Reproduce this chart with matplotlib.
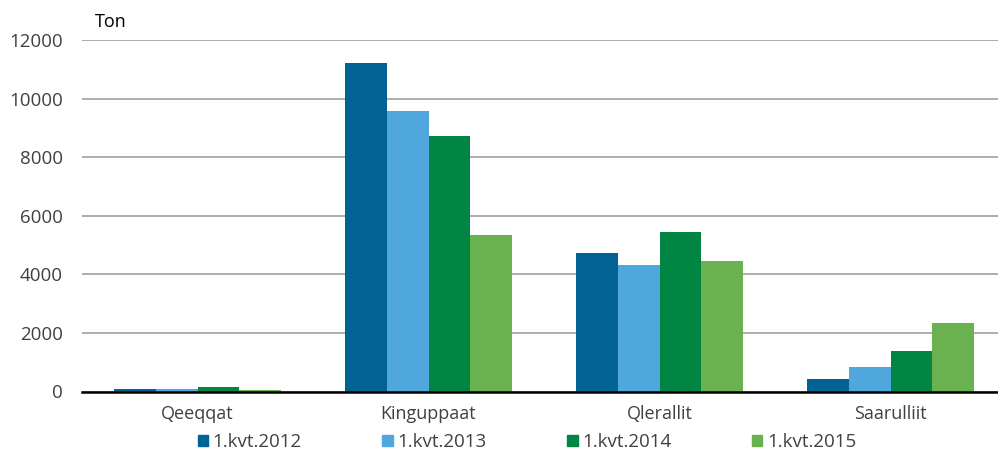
import numpy as np
import matplotlib
matplotlib.use("Agg")
import matplotlib.pyplot as plt
from matplotlib.patches import Patch

plt.rcParams['font.family'] = ['Open Sans', 'DejaVu Sans']

categories = ['Qeeqqat', 'Kinguppaat', 'Qlerallit', 'Saarulliit']
series = ['1.kvt.2012', '1.kvt.2013', '1.kvt.2014', '1.kvt.2015']
v2012 = [100, 11200, 4720, 420]
v2013 = [95, 9580, 4320, 840]
v2014 = [140, 8720, 5440, 1370]
v2015 = [40, 5340, 4440, 2350]
values = [v2012, v2013, v2014, v2015]
colors = ['#006394', '#4fa7dd', '#008542', '#6ab150']

fig = plt.figure(figsize=(9.98, 4.5), dpi=100)
ax = fig.add_axes([82 / 998, 58.5 / 450, 916 / 998, 351.5 / 450])

x = np.arange(len(categories))
w = 0.18
for i, (vals, col) in enumerate(zip(values, colors)):
    ax.bar(x + (i - 1.5) * w, vals, w, color=col, label=series[i], zorder=3)

ax.set_xlim(-0.5, 3.465)
ax.set_ylim(0, 12000)
ax.set_yticks(range(0, 12001, 2000))
ax.set_xticks(x)
ax.set_xticklabels(categories)
ax.grid(axis='y', color='#a0a0a0', linewidth=1.2, zorder=0)
for s in ['top', 'right', 'left']:
    ax.spines[s].set_visible(False)
ax.spines['bottom'].set_color('black')
ax.spines['bottom'].set_linewidth(1.8)
ax.spines['bottom'].set_zorder(4)
ax.tick_params(axis='y', length=0, pad=14, labelsize=13.5, labelcolor='#404040')
ax.tick_params(axis='x', length=0, pad=10, labelsize=13, labelcolor='#404040')

fig.text(95 / 998, 1 - 22 / 450, 'Ton', fontsize=13, color='black', va='center', ha='left')

handles = [Patch(color=c) for c in colors]
fig.legend(handles, series, loc='center', bbox_to_anchor=(527 / 998, 1 - 442 / 450),
           ncol=4, frameon=False, fontsize=13.5, handlelength=0.55, handleheight=0.55,
           handletextpad=0.25, columnspacing=4.3, labelcolor='#404040')

fig.savefig('out.png', dpi=100)
